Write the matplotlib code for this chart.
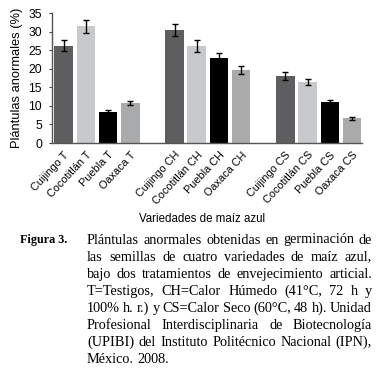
import matplotlib
matplotlib.use("Agg")
import matplotlib.pyplot as plt

# data
varieties = ["Cuijingo", "Cocotitlán", "Puebla", "Oaxaca"]
treatments = ["T", "CH", "CS"]
values_T = [26.2, 31.4, 8.3, 10.8]
values_CH = [30.5, 26.2, 22.9, 19.7]
values_CS = [18.0, 16.4, 11.0, 6.7]
errors_T = [1.5, 1.8, 0.5, 0.5]
errors_CH = [1.6, 1.6, 1.2, 1.0]
errors_CS = [1.0, 0.9, 0.7, 0.4]
bar_colors = ["#5e5e60", "#c8c9cb", "#000000", "#a9aaac"]

caption_head = "Figura 3."
caption_lines = [
    "Plántulas anormales obtenidas en germinación de",
    "las semillas de cuatro variedades de maíz azul,",
    "bajo dos tratamientos de envejecimiento articial.",
    "T=Testigos, CH=Calor Húmedo (41°C, 72 h y",
    "100% h. r.) y CS=Calor Seco (60°C, 48 h). Unidad",
    "Profesional Interdisciplinaria de Biotecnología",
    "(UPIBI) del Instituto Politécnico Nacional (IPN),",
    "México. 2008.",
]

W, H = 383, 379
fig = plt.figure(figsize=(W / 100, H / 100), dpi=100)
ax = fig.add_axes([52 / W, 1 - 143 / H, (362 - 52) / W, (143 - 13) / H])

all_vals = [values_T, values_CH, values_CS]
all_errs = [errors_T, errors_CH, errors_CS]
positions, labels = [], []
for g, (vals, errs) in enumerate(zip(all_vals, all_errs)):
    xs = [g * 5 + i for i in range(len(vals))]
    ax.bar(xs, vals, width=0.84, color=bar_colors, yerr=errs,
           error_kw=dict(ecolor="black", elinewidth=1.0, capsize=2, capthick=1.0))
    positions += xs
    labels += [f"{v} {treatments[g]}" for v in varieties]

sans = "Liberation Sans"
ax.set_xlim(-0.53, 13.45)
ax.set_ylim(0, 35)
ax.set_yticks(range(0, 36, 5))
ax.set_xticks(positions)
ax.set_xticklabels(labels, rotation=47, ha="right", rotation_mode="anchor",
                   fontsize=7.8, family=sans)
ax.tick_params(axis="x", length=0, pad=5)
ax.tick_params(axis="y", length=2.5, width=0.8, color="#444444", labelsize=8.7, pad=4.7)
for lab in ax.get_yticklabels():
    lab.set_family(sans)
for s in ["top", "right"]:
    ax.spines[s].set_visible(False)
for s in ["left", "bottom"]:
    ax.spines[s].set_color("#555555")
    ax.spines[s].set_linewidth(1.0)

fig.text(17 / W, 1 - 78 / H, "Plántulas anormales (%)", rotation=90, ha="center",
         va="center", fontsize=9.3, family=sans)
fig.text(202 / W, 1 - 219 / H, "Variedades de maíz azul", ha="center", va="center",
         fontsize=8.3, family=sans)

# caption, justified by hand
base0, step = 243.5, 17.1
fig.text(19.5 / W, 1 - base0 / H, caption_head, ha="left", va="baseline", fontsize=8.7,
         family="Liberation Serif", weight="bold")
renderer = fig.canvas.get_renderer()
left_px, right_px = 87, 372
for i, line in enumerate(caption_lines):
    y = 1 - (base0 + i * step) / H
    words = line.split(" ")
    texts = [fig.text(0, y, w, ha="left", va="baseline", fontsize=10.3,
                      family="Liberation Serif") for w in words]
    widths = [t.get_window_extent(renderer).width for t in texts]
    if i < len(caption_lines) - 1 and len(words) > 1:
        gap = (right_px - left_px - sum(widths)) / (len(words) - 1)
    else:
        gap = 3.5
    x = left_px
    for t, w in zip(texts, widths):
        t.set_x(x / W)
        x += w + gap

fig.savefig("out.png", dpi=100)
